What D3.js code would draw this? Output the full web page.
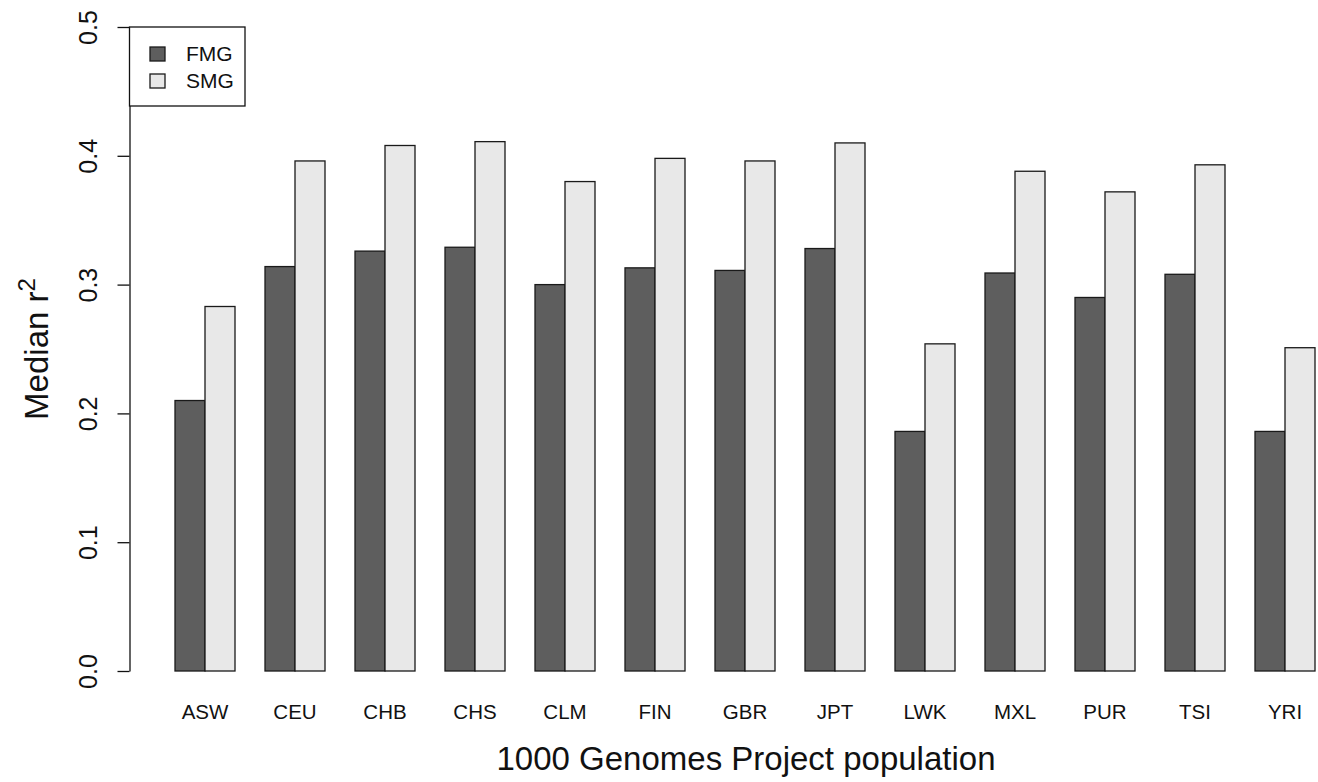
<!DOCTYPE html>
<html>
<head>
<meta charset="utf-8">
<script src="https://cdn.jsdelivr.net/npm/d3@7"></script>
<style>
  html, body { margin: 0; padding: 0; background: #fff; }
  svg { display: block; font-family: "Liberation Sans", Arial, Helvetica, sans-serif; }
</style>
</head>
<body>
<svg id="chart" width="1318" height="782"></svg>
<script>
const categories = ["ASW","CEU","CHB","CHS","CLM","FIN","GBR","JPT","LWK","MXL","PUR","TSI","YRI"];
const seriesNames = ["FMG","SMG"];
const fmgValues = [0.210,0.314,0.326,0.329,0.300,0.313,0.311,0.328,0.186,0.309,0.290,0.308,0.186];
const smgValues = [0.283,0.396,0.408,0.411,0.380,0.398,0.396,0.410,0.254,0.388,0.372,0.393,0.251];
const yTicks = [0.0,0.1,0.2,0.3,0.4,0.5];
const xTitle = "1000 Genomes Project population";
const yTitle = "Median r";

const colors = {FMG: "#5e5e5e", SMG: "#e8e8e8"};
const svg = d3.select("#chart");

const y = d3.scaleLinear().domain([0, 0.5]).range([671, 27]);
const x0 = d3.scaleBand().domain(categories).range([160, 1330]).paddingInner(1/3).paddingOuter(1/6);
const x1 = d3.scaleBand().domain(seriesNames).range([0, x0.bandwidth()]);

const rows = categories.map((c, i) => ({cat: c, FMG: fmgValues[i], SMG: smgValues[i]}));

const groups = svg.append("g").selectAll("g").data(rows).join("g")
  .attr("transform", d => `translate(${x0(d.cat)},0)`);
groups.selectAll("rect").data(d => seriesNames.map(s => ({s, v: d[s]}))).join("rect")
  .attr("x", d => x1(d.s))
  .attr("width", x1.bandwidth())
  .attr("y", d => y(d.v))
  .attr("height", d => y(0) - y(d.v))
  .attr("fill", d => colors[d.s])
  .attr("stroke", "#1a1a1a")
  .attr("stroke-width", 1.3);

// category labels
const xAxis = svg.append("g").attr("transform", `translate(0,${y(0)})`)
  .call(d3.axisBottom(x0).tickSize(0).tickPadding(0));
xAxis.select(".domain").remove();
xAxis.selectAll("text").attr("dy", 0).attr("y", 48)
  .attr("font-size", 20.5).attr("fill", "#111").attr("font-family", "Liberation Sans, Arial, sans-serif");

// y axis
const yAxis = svg.append("g").attr("transform", "translate(129.5,0)")
  .call(d3.axisLeft(y).tickValues(yTicks).tickFormat(d3.format(".1f")).tickSize(12).tickSizeOuter(0));
yAxis.select(".domain").attr("stroke", "#111").attr("stroke-width", 1.3);
yAxis.selectAll(".tick line").attr("stroke", "#111").attr("stroke-width", 1.3);
yAxis.selectAll("text")
  .attr("transform", "rotate(-90)")
  .attr("x", 0).attr("y", -33).attr("dy", 0)
  .attr("text-anchor", "middle")
  .attr("font-size", 25).attr("fill", "#111").attr("font-family", "Liberation Sans, Arial, sans-serif");

// axis titles
svg.append("text")
  .attr("x", 746).attr("y", 770)
  .attr("text-anchor", "middle")
  .attr("font-size", 33).attr("fill", "#111")
  .text(xTitle);

const yt = svg.append("text")
  .attr("transform", `translate(48,${(y(0) + y(0.5)) / 2}) rotate(-90)`)
  .attr("text-anchor", "middle")
  .attr("font-size", 33).attr("fill", "#111");
yt.append("tspan").text(yTitle);
yt.append("tspan").attr("dy", -13).attr("font-size", 24).text("2");

// legend
const leg = svg.append("g");
leg.append("rect").attr("x", 129.5).attr("y", 27).attr("width", 115.5).attr("height", 79)
  .attr("fill", "#fff").attr("stroke", "#111").attr("stroke-width", 1.3);
seriesNames.forEach((s, i) => {
  leg.append("rect").attr("x", 150).attr("y", 47 + i * 27).attr("width", 15).attr("height", 14)
    .attr("fill", colors[s]).attr("stroke", "#1a1a1a").attr("stroke-width", 1.3);
  leg.append("text").attr("x", 186).attr("y", 61 + i * 27)
    .attr("font-size", 21).attr("fill", "#111").text(s);
});
</script>
</body>
</html>
